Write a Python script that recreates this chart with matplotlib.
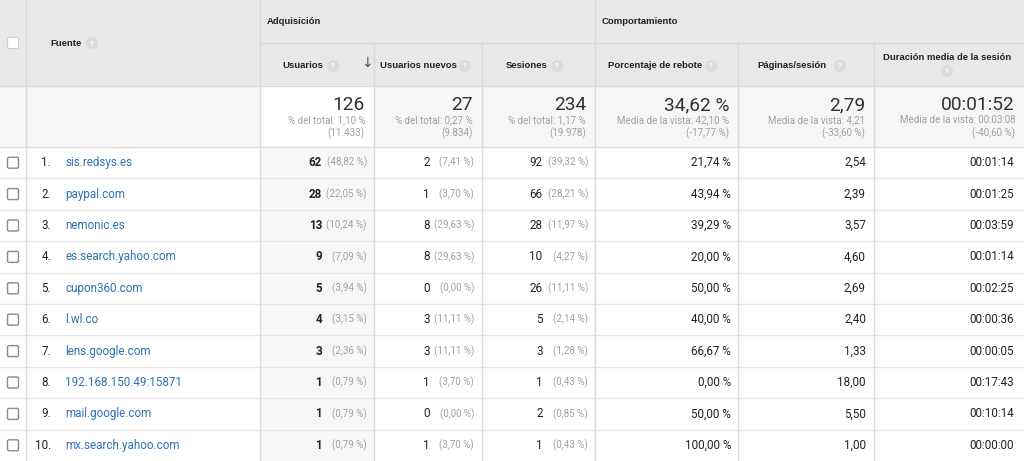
import matplotlib
matplotlib.use("Agg")
import matplotlib.pyplot as plt
from matplotlib.patches import Rectangle, Circle, FancyBboxPatch

# ---------------- data ----------------
fuentes = ["sis.redsys.es", "paypal.com", "nemonic.es", "es.search.yahoo.com",
           "cupon360.com", "l.wl.co", "lens.google.com", "192.168.150.49:15871",
           "mail.google.com", "mx.search.yahoo.com"]
usuarios = [62, 28, 13, 9, 5, 4, 3, 1, 1, 1]
usuarios_pct = ["48,82 %", "22,05 %", "10,24 %", "7,09 %", "3,94 %", "3,15 %",
                "2,36 %", "0,79 %", "0,79 %", "0,79 %"]
nuevos = [2, 1, 8, 8, 0, 3, 3, 1, 0, 1]
nuevos_pct = ["7,41 %", "3,70 %", "29,63 %", "29,63 %", "0,00 %", "11,11 %",
              "11,11 %", "3,70 %", "0,00 %", "3,70 %"]
sesiones = [92, 66, 28, 10, 26, 5, 3, 1, 2, 1]
sesiones_pct = ["39,32 %", "28,21 %", "11,97 %", "4,27 %", "11,11 %", "2,14 %",
                "1,28 %", "0,43 %", "0,85 %", "0,43 %"]
rebote = ["21,74 %", "43,94 %", "39,29 %", "20,00 %", "50,00 %", "40,00 %",
          "66,67 %", "0,00 %", "50,00 %", "100,00 %"]
paginas = ["2,54", "2,39", "3,57", "4,60", "2,69", "2,40", "1,33", "18,00",
           "5,50", "1,00"]
duracion = ["00:01:14", "00:01:25", "00:03:59", "00:01:14", "00:02:25",
            "00:00:36", "00:00:05", "00:17:43", "00:10:14", "00:00:00"]

totales = ["126", "27", "234", "34,62 %", "2,79", "00:01:52"]
totales_sub1 = ["% del total: 1,10 %", "% del total: 0,27 %", "% del total: 1,17 %",
                "Media de la vista: 42,10 %", "Media de la vista: 4,21",
                "Media de la vista: 00:03:08"]
totales_sub2 = ["(11.433)", "(9.834)", "(19.978)", "(-17,77 %)", "(-33,60 %)",
                "(-40,60 %)"]

grupos = ["Adquisición", "Comportamiento"]
columnas = ["Usuarios", "Usuarios nuevos", "Sesiones", "Porcentaje de rebote",
            "Páginas/sesión", "Duración media de la sesión"]

# ---------------- layout ----------------
W, H = 1024, 461
fig = plt.figure(figsize=(W / 100, H / 100), dpi=100)
ax = fig.add_axes([0, 0, 1, 1])
ax.set_xlim(0, W)
ax.set_ylim(H, 0)
ax.axis("off")

FONT = "Roboto"
HFONT = "Liberation Sans"
LINE = "#dadada"
HBG = "#e8e8e8"
TBG = "#f6f6f6"
SORTBG = "#f7f7f7"
LINK = "#2e72b3"
DARK = "#222222"
GRAY = "#a0a0a0"
HSIZE = 6.8
SMALL = 7.0
DSIZE = 8.4

colx = [0, 26, 260, 374, 482, 595, 738, 874, 1024]
y_grp = 43
y_head = 86
y_tot = 147
row_h = (461 - 147) / 10
row_y = [y_tot + i * row_h for i in range(11)]

# backgrounds
ax.add_patch(Rectangle((0, 0), W, y_head, color=HBG, zorder=0))
ax.add_patch(Rectangle((0, y_head), W, y_tot - y_head, color=TBG, zorder=0))
ax.add_patch(Rectangle((colx[2], y_head), colx[3] - colx[2], y_tot - y_head,
                       color="white", zorder=0))
ax.add_patch(Rectangle((colx[2], y_tot), colx[3] - colx[2], H - y_tot,
                       color=SORTBG, zorder=0))

# lines
ax.plot([colx[2], W], [y_grp, y_grp], color=LINE, lw=1, zorder=1)
ax.plot([0, W], [y_head, y_head], color=LINE, lw=1, zorder=1)
ax.plot([0, W], [y_tot, y_tot], color=LINE, lw=1, zorder=1)
for yy in row_y[1:-1]:
    ax.plot([0, W], [yy, yy], color="#e6e6e6", lw=1, zorder=1)
for x in [colx[1], colx[2], colx[5]]:
    ax.plot([x, x], [0, H], color=LINE, lw=1, zorder=1)
for x in [colx[3], colx[4], colx[6], colx[7]]:
    ax.plot([x, x], [y_grp, H], color=LINE, lw=1, zorder=1)


def qmark(x, y):
    ax.add_patch(Circle((x, y), 5.3, color="#dcdcdc", zorder=3))
    ax.text(x, y + 0.5, "?", ha="center", va="center", fontsize=5.3,
            color="white", family=FONT, fontweight="bold", zorder=4)


def checkbox(x, y, ec, lw):
    ax.add_patch(FancyBboxPatch((x - 5.5, y - 5.5), 11, 11,
                                boxstyle="round,pad=0,rounding_size=1.5",
                                fc="white", ec=ec, lw=lw, zorder=3))


# header
checkbox(13, 43, "#d0d0d0", 0.8)
ax.text(50, 43, "Fuente", ha="left", va="center", fontsize=HSIZE,
        fontweight="bold", family=HFONT, color=DARK)
qmark(92, 43)
ax.text(267, 22, grupos[0], ha="left", va="center", fontsize=HSIZE,
        fontweight="bold", family=HFONT, color=DARK)
ax.text(602, 22, grupos[1], ha="left", va="center", fontsize=HSIZE,
        fontweight="bold", family=HFONT, color=DARK)

hdr_q = [333, 465, 557, 711, 840]
hdr_start = [282, 380, 506, 608, 757]
for i in range(5):
    ax.text(hdr_start[i], 66, columnas[i], ha="left", va="center",
            fontsize=HSIZE, fontweight="bold", family=HFONT, color=DARK)
    qmark(hdr_q[i], 66)
ax.text(367, 63, "↓", ha="center", va="center", fontsize=10, color="#555555",
        family="DejaVu Sans")
ax.text(947, 57, columnas[5], ha="center", va="center", fontsize=HSIZE,
        fontweight="bold", family=HFONT, color=DARK)
qmark(947, 71)

# totals
for i in range(6):
    xr = colx[i + 3] - 9
    ax.text(xr, 105, totales[i], ha="right", va="center", fontsize=13.8,
            family=FONT, color="#333333")
    ax.text(xr, 120, totales_sub1[i], ha="right", va="center", fontsize=SMALL,
            family=FONT, color=GRAY)
    ax.text(xr, 133, totales_sub2[i], ha="right", va="center", fontsize=SMALL,
            family=FONT, color=GRAY)

# data rows
for i in range(len(fuentes)):
    yc = (row_y[i] + row_y[i + 1]) / 2
    checkbox(13, yc, "#8a8a8a", 1.0)
    ax.text(51, yc, f"{i + 1}.", ha="right", va="center", fontsize=DSIZE,
            family=FONT, color=DARK)
    ax.text(65, yc, fuentes[i], ha="left", va="center", fontsize=DSIZE,
            family=FONT, color=LINK)
    ax.text(322, yc, str(usuarios[i]), ha="right", va="center", fontsize=DSIZE,
            family=FONT, fontweight="bold", color=DARK)
    ax.text(367, yc, f"({usuarios_pct[i]})", ha="right", va="center",
            fontsize=SMALL, family=FONT, color=GRAY)
    ax.text(430, yc, str(nuevos[i]), ha="right", va="center", fontsize=DSIZE,
            family=FONT, color=DARK)
    ax.text(474, yc, f"({nuevos_pct[i]})", ha="right", va="center",
            fontsize=SMALL, family=FONT, color=GRAY)
    ax.text(543 if sesiones[i] < 10 else 542, yc, str(sesiones[i]),
            ha="right", va="center", fontsize=DSIZE, family=FONT, color=DARK)
    ax.text(588, yc, f"({sesiones_pct[i]})", ha="right", va="center",
            fontsize=SMALL, family=FONT, color=GRAY)
    ax.text(731, yc, rebote[i], ha="right", va="center", fontsize=DSIZE,
            family=FONT, color=DARK)
    ax.text(866, yc, paginas[i], ha="right", va="center", fontsize=DSIZE,
            family=FONT, color=DARK)
    ax.text(1014, yc, duracion[i], ha="right", va="center", fontsize=DSIZE,
            family=FONT, color=DARK)

fig.savefig("out.png", dpi=100)
